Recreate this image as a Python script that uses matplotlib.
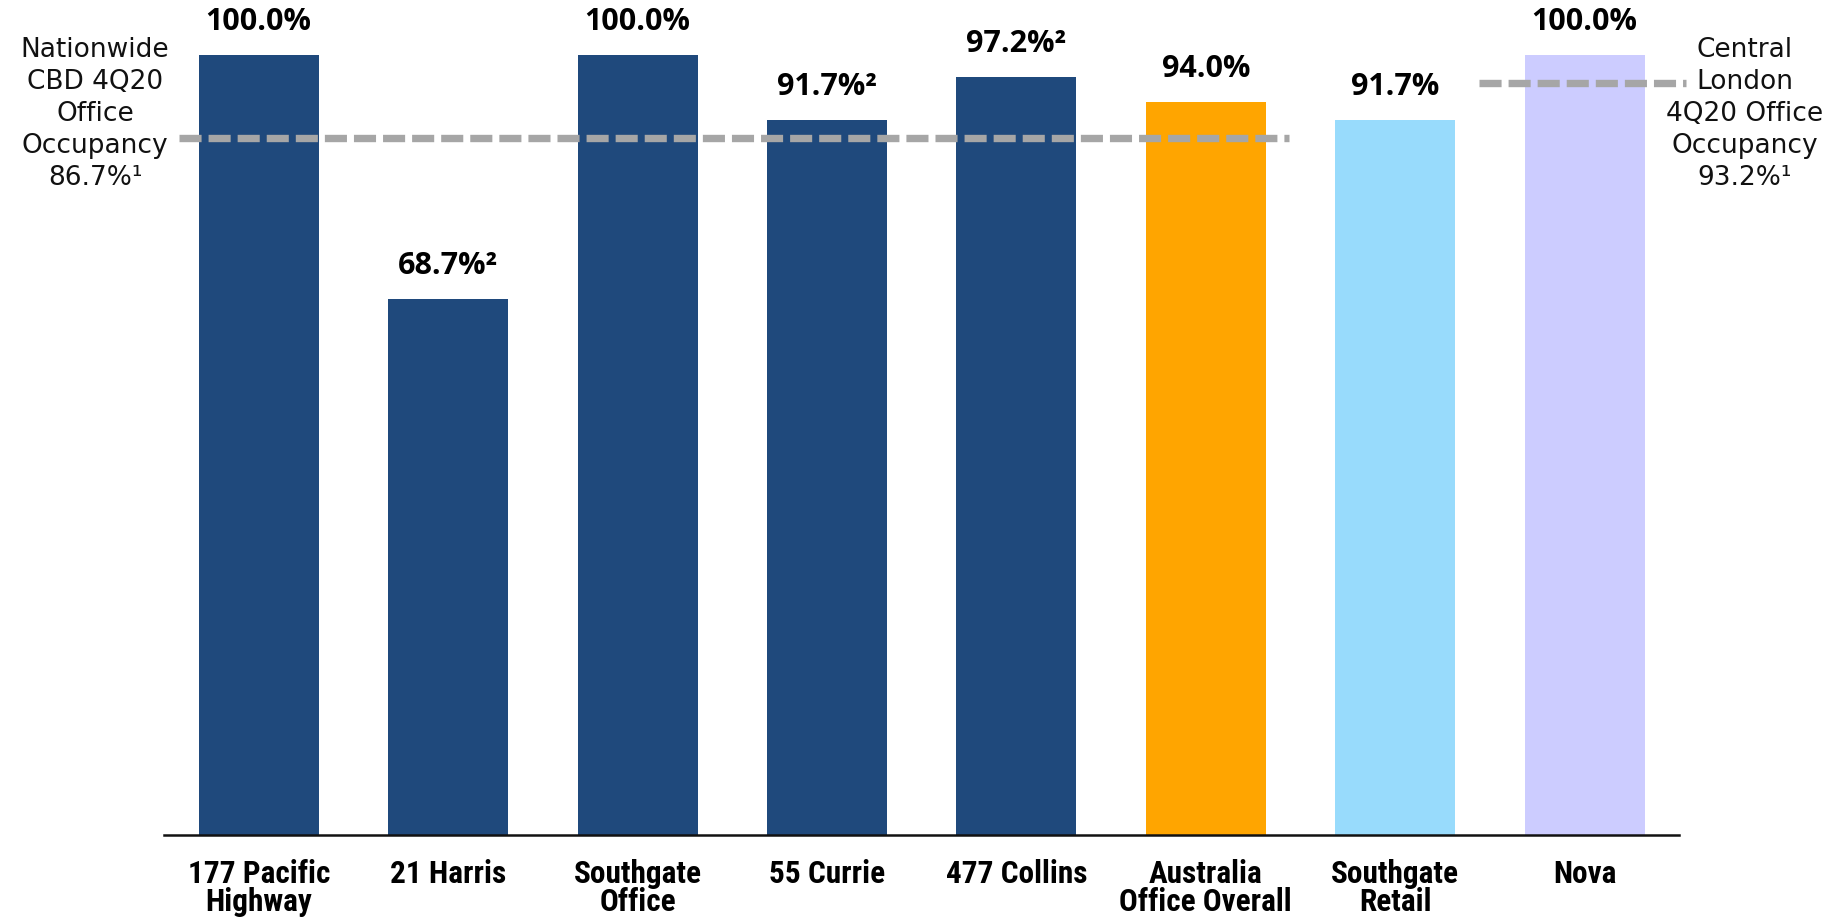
import matplotlib
matplotlib.use("Agg")
import matplotlib.pyplot as plt
from matplotlib import font_manager as fm

# ---- data ----
categories = ["177 Pacific\nHighway", "21 Harris", "Southgate\nOffice", "55 Currie",
              "477 Collins", "Australia\nOffice Overall", "Southgate\nRetail", "Nova"]
occupancy = [100.0, 68.7, 100.0, 91.7, 97.2, 94.0, 91.7, 100.0]
value_labels = ["100.0%", "68.7%²", "100.0%", "91.7%²", "97.2%²", "94.0%", "91.7%", "100.0%"]
bar_colors = ["#1F497C", "#1F497C", "#1F497C", "#1F497C", "#1F497C",
              "#FFA500", "#98DBFC", "#CCCCFF"]

nationwide_label = "Nationwide\nCBD 4Q20\nOffice\nOccupancy\n86.7%¹"
london_label = "Central\nLondon\n4Q20 Office\nOccupancy\n93.2%¹"
nationwide_line_y = 89.3   # drawn position in the reference
london_line_y = 96.4       # drawn position in the reference

avail = {f.name for f in fm.fontManager.ttflist}
def pick(*names):
    for n in names:
        if n in avail:
            return n
    return "DejaVu Sans"

cat_font = pick("Liberation Sans Narrow", "Roboto Condensed", "Liberation Sans")
val_font = pick("Open Sans", "Noto Sans", "DejaVu Sans")
ann_font = "DejaVu Sans"

fig = plt.figure(figsize=(18.45, 9.22), dpi=100)
ax = fig.add_axes([0.0889, 0.0944, 0.8213, 0.8459])

x = list(range(len(categories)))
bars = ax.bar(x, occupancy, width=0.633, color=bar_colors, zorder=2)

ax.set_xlim(-0.5, 7.5)
ax.set_ylim(0, 100)

for b, lab in zip(bars, value_labels):
    ax.annotate(lab, (b.get_x() + b.get_width() / 2, b.get_height()),
                xytext=(0, 13), textcoords="offset points",
                ha="center", va="bottom", fontsize=22, fontweight="bold",
                family=[val_font, "DejaVu Sans"], annotation_clip=False)

# reference lines
ax.plot([-0.42, 5.44], [nationwide_line_y] * 2, color="#A6A6A6", lw=5.3,
        dashes=(3.0, 0.95), zorder=3, clip_on=False, solid_capstyle="butt")
ax.plot([6.445, 7.537], [london_line_y] * 2, color="#A6A6A6", lw=5.3,
        dashes=(3.0, 0.95), zorder=3, clip_on=False, solid_capstyle="butt")

fig.text(95 / 1845, 1 - 114 / 922, nationwide_label, ha="center", va="center",
         fontsize=19, linespacing=1.3, family=[ann_font], color="#111111")
fig.text(1745 / 1845, 1 - 114 / 922, london_label, ha="center", va="center",
         fontsize=19, linespacing=1.3, family=[ann_font], color="#111111")

ax.set_xticks(x)
ax.set_xticklabels(categories, fontsize=22.5, fontweight="bold",
                   family=[cat_font, "DejaVu Sans"], linespacing=0.95)
ax.tick_params(axis="x", length=0, pad=17)
ax.set_yticks([])
for s in ["top", "left", "right"]:
    ax.spines[s].set_visible(False)
ax.spines["bottom"].set_linewidth(1.8)
ax.spines["bottom"].set_color("#111111")

fig.savefig("out.png", dpi=100)
